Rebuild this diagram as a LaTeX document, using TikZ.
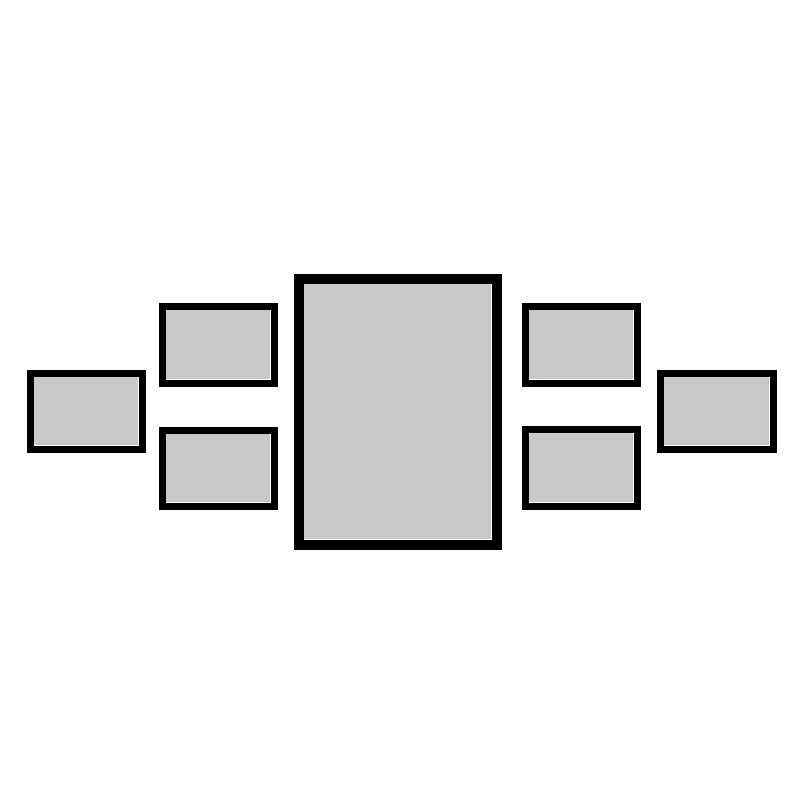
\documentclass[tikz,border=0pt]{standalone}
\definecolor{photogray}{HTML}{CBC8C9}
\newcommand{\pframe}[5]{%
  \fill[black] (#1,#2) rectangle (#3,#4);
  \fill[white] (#1+#5,#2+#5) rectangle (#3-#5,#4-#5);
  \fill[photogray] (#1+#5,#2+#5) rectangle (#3-#5-1.2,#4-#5-1.2);
}
\begin{document}
\begin{tikzpicture}[x=1pt,y=-1pt]
\useasboundingbox (0,0) rectangle (800,800);
\fill[white] (0,0) rectangle (800,800);
% left
\pframe{27}{370}{146}{453}{7}
% left small top / bottom
\pframe{159}{303}{278}{387}{7}
\pframe{159}{427}{278}{510}{7}
% centre
\pframe{294}{274}{502}{550}{10}
% right small top / bottom
\pframe{522}{303}{641}{387}{7}
\pframe{522}{426}{641}{510}{7}
% right
\pframe{657}{370}{777}{453}{7}
\end{tikzpicture}
\end{document}
